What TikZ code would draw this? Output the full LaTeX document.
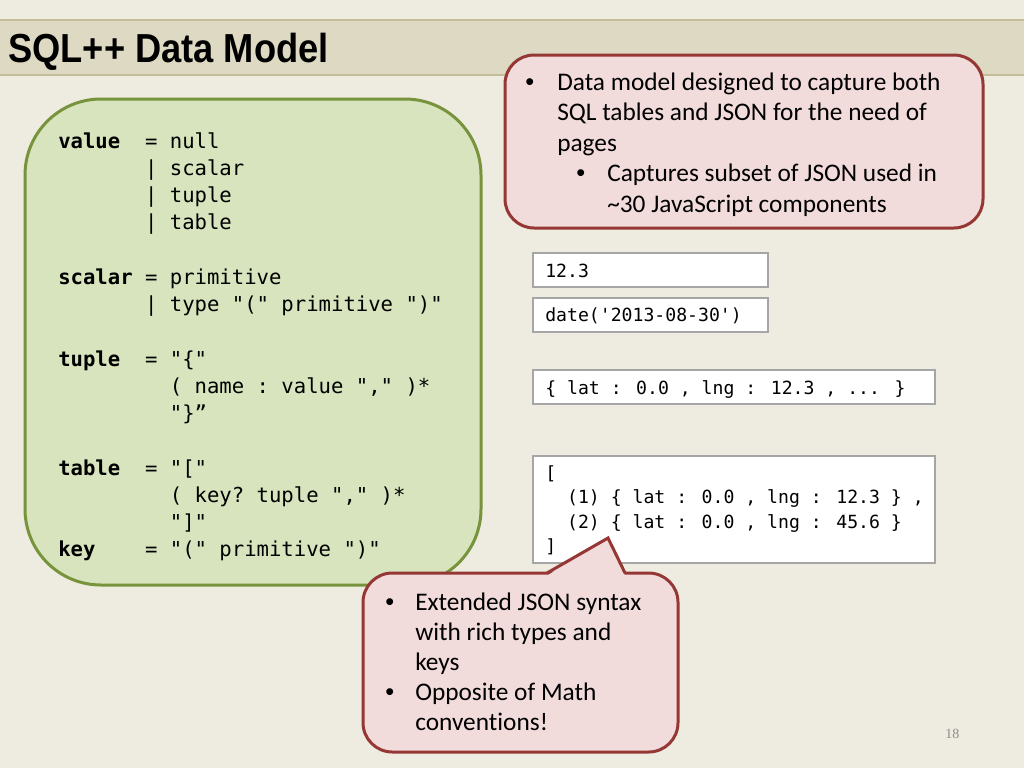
\documentclass[tikz,border=0pt]{standalone}
\usepackage{fontspec}
\setmainfont[Ligatures=NoCommon]{Carlito}
\newfontfamily\titlefont{Liberation Sans}
\newfontfamily\codefont[Ligatures=TeXOff]{DejaVu Sans Mono}
\newfontfamily\numfont{Liberation Serif}
\usetikzlibrary{fit}
\definecolor{bgc}{HTML}{EEECE1}
\definecolor{barfill}{HTML}{DDD9C3}
\definecolor{barline}{HTML}{C4BD97}
\definecolor{greenfill}{HTML}{D7E4BD}
\definecolor{greenline}{HTML}{77933C}
\definecolor{redfill}{HTML}{F2DCDB}
\definecolor{redline}{HTML}{953735}
\definecolor{boxgray}{HTML}{A6A6A6}
\definecolor{numgray}{HTML}{8C8C8C}
\tikzset{
  code/.style={anchor=base west, inner sep=0, font=\codefont\fontsize{15.45pt}{20pt}\selectfont},
  jtxt/.style={anchor=base west, inner sep=0, font=\codefont\fontsize{13.6pt}{18pt}\selectfont},
  btxt/.style={anchor=base west, inner sep=0, font=\fontsize{19pt}{22.9pt}\selectfont},
  bdot/.style={anchor=base west, inner sep=0, font=\titlefont\fontsize{19pt}{22.9pt}\selectfont},
  grammarbox/.style={fill=greenfill, draw=greenline, line width=2.25pt, rounded corners=57pt, inner sep=0},
  calloutbox/.style={fill=redfill, draw=redline, line width=2.25pt, rounded corners=22pt, inner sep=0},
  jsonbox/.style={fill=white, draw=boxgray, line width=1pt, inner sep=0},
}
\begin{document}
\begin{tikzpicture}[x=0.75pt,y=-0.75pt]
\useasboundingbox (0,0) rectangle (1024,768);
\fill[bgc] (0,0) rectangle (1024,768);

% title bar
\node[fit={(0,20) (1024,75)}, fill=barfill, inner sep=0] (bar) {};
\draw[barline, line width=1.5pt] (bar.north west) -- (bar.north east);
\draw[barline, line width=1.5pt] (bar.south west) -- (bar.south east);
\node[anchor=base west, inner sep=0, font=\titlefont\bfseries\fontsize{30.4pt}{36pt}\selectfont] (title) at (8,62) {\scalebox{0.895}[1]{SQL++ Data Model}};

% grammar box
\node[grammarbox, fit={(25,99) (481,585)}] (grammar) {};
\node[code] (c0)  at (58,148)    {\textbf{value}~~=~null};
\node[code] (c1)  at (58,175.25) {~~~~~~~|~scalar};
\node[code] (c2)  at (58,202.5)  {~~~~~~~|~tuple};
\node[code] (c3)  at (58,229.75) {~~~~~~~|~table};
\node[code] (c5)  at (58,284.25) {\textbf{scalar}~=~primitive};
\node[code] (c6)  at (58,311.5)  {~~~~~~~|~type~"("~primitive~")"};
\node[code] (c8)  at (58,366)    {\textbf{tuple}~~=~"\{"};
\node[code] (c9)  at (58,393.25) {~~~~~~~~~(~name~:~value~","~)*};
\node[code] (c10) at (58,420.5)  {~~~~~~~~~"\}”};
\node[code] (c12) at (58,475)    {\textbf{table}~~=~"["};
\node[code] (c13) at (58,502.25) {~~~~~~~~~(~key?~tuple~","~)*};
\node[code] (c14) at (58,529.5)  {~~~~~~~~~"]"};
\node[code] (c15) at (58,556.75) {\textbf{key}~~~~=~"("~primitive~")"};

% top callout
\node[calloutbox, rounded corners=21.75pt, fit={(505,55) (983,228)}] (callA) {};
\node[bdot] (a0b) at (525,90) {•};
\node[btxt] (a0) at (557,90) {Data model designed to capture both};
\node[btxt] (a1) at (557,120.5) {SQL tables and JSON for the need of};
\node[btxt] (a2) at (557,151) {pages};
\node[bdot] (a3b) at (576,181.5) {•};
\node[btxt] (a3) at (607,181.5) {Captures subset of JSON used in};
\node[btxt] (a4) at (607,212) {\textasciitilde30 JavaScript components};

% JSON boxes
\node[jsonbox, fit={(533,253) (768,287)}] (box1) {};
\node[jtxt] (t1) at (545,277) {12.3};
\node[jsonbox, fit={(533,298) (768,332)}] (box2) {};
\node[jtxt] (t2) at (545,321.5) {date('2013-08-30')};
\node[jsonbox, fit={(533,370) (935,404)}] (box3) {};
\node[jtxt] (t3) at (545,394.5) {\{ lat : 0.0 , lng : 12.3 , ... \}};
\node[jsonbox, fit={(533,456) (935,563)}] (box4) {};
\node[jtxt] (t4a) at (545,479) {[};
\node[jtxt] (t4b) at (545,503.5) {~~(1) \{ lat : 0.0 , lng : 12.3 \} ,};
\node[jtxt] (t4c) at (545,528) {~~(2) \{ lat : 0.0 , lng : 45.6 \}};
\node[jtxt] (t4d) at (545,552.5) {]};

% bottom callout with pointer
\node[calloutbox, fit={(363,573) (678,752)}] (callB) {};
\coordinate (pl) at (547,573);
\coordinate (pr) at (625,573);
\coordinate (tip) at (608,538);
\fill[redfill] ([yshift=-2pt]pl) -- (tip) -- ([yshift=-2pt]pr) -- cycle;
\draw[redline, line width=2.25pt, line join=miter] (pl) -- (tip) -- (pr);
\node[bdot] (b0b) at (385,610) {•};
\node[btxt] (b0) at (415,610) {Extended JSON syntax};
\node[btxt] (b1) at (415,640) {with rich types and};
\node[btxt] (b2) at (415,670) {keys};
\node[bdot] (b3b) at (385,700) {•};
\node[btxt] (b3) at (415,700) {Opposite of Math};
\node[btxt] (b4) at (415,730) {conventions!};

% page number
\node[anchor=base west, inner sep=0, text=numgray, font=\numfont\fontsize{10.5pt}{12pt}\selectfont] (pnum) at (945,738) {18};
\end{tikzpicture}
\end{document}
